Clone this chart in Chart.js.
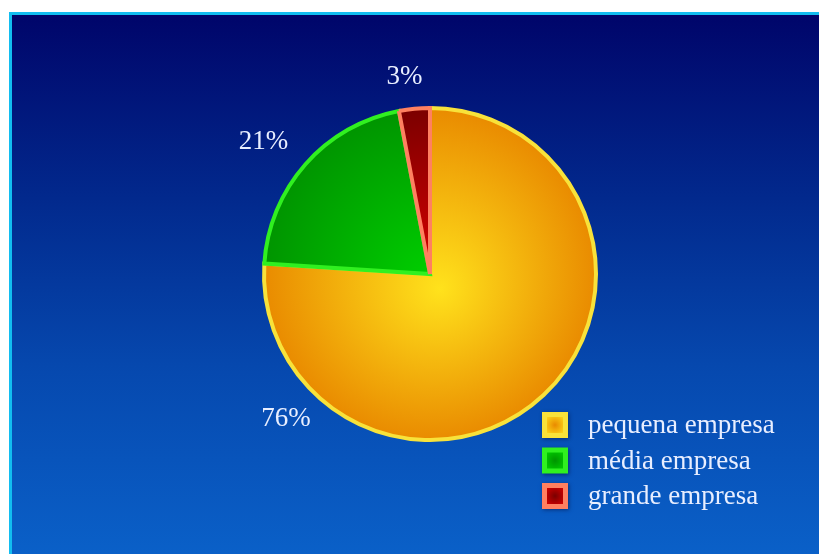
<!DOCTYPE html>
<html>
<head>
<meta charset="utf-8">
<script src="https://cdn.jsdelivr.net/npm/chart.js@4.4.1/dist/chart.umd.min.js"></script>
<style>
  html, body { margin: 0; padding: 0; background: #ffffff; }
  #wrap { position: relative; width: 819px; height: 554px; overflow: hidden; }
  #panel {
    position: absolute; left: 9px; top: 12px; right: 0; bottom: 0;
    border-top: 3px solid #12bdf0; border-left: 3px solid #12bdf0;
    background: linear-gradient(180deg, #00056a 0%, #022a8e 35%, #0648ae 65%, #0a60c8 100%);
  }
  canvas { position: absolute; left: 0; top: 0; }
</style>
</head>
<body>
<div id="wrap">
  <div id="panel"></div>
  <canvas id="c" width="819" height="554"></canvas>
</div>
<script>
// Share of companies by size
const categories = ['pequena empresa', 'média empresa', 'grande empresa'];
const shares = [76, 21, 3];
const valueLabels = ['76%', '21%', '3%'];

// Slice colours: [centre, rim] of the radial fill, plus the outline
const fillInner = ['#ffe21c', '#00d400', '#e00000'];
const fillOuter = ['#e98a00', '#009400', '#7a0000'];
const outlines = ['#f8e23a', '#30f020', '#ff8060'];

// Where each value label sits: fraction along its slice, distance as a multiple of radius
const labelAngleFrac = [0.822, 0.46, 0.32];
const labelRadiusMul = [1.23, 1.28, 1.2];

const textColor = '#e8eeff';
const serif = '"Liberation Serif", "DejaVu Serif", serif';

function sliceFill(ctx) {
  const chart = ctx.chart;
  const area = chart.chartArea;
  const i = ctx.dataIndex;
  if (!area) return fillOuter[i];
  const cx = (area.left + area.right) / 2;
  const cy = (area.top + area.bottom) / 2;
  const r = Math.min(area.width, area.height) / 2;
  const g = chart.ctx.createRadialGradient(cx + 10, cy + 15, 0, cx, cy, r);
  g.addColorStop(0, fillInner[i]);
  g.addColorStop(1, fillOuter[i]);
  return g;
}

const valueLabelPlugin = {
  id: 'valueLabels',
  afterDatasetsDraw(chart) {
    const meta = chart.getDatasetMeta(0);
    const ctx = chart.ctx;
    ctx.save();
    ctx.font = '27px ' + serif;
    ctx.fillStyle = textColor;
    ctx.textAlign = 'center';
    ctx.textBaseline = 'middle';
    meta.data.forEach((arc, i) => {
      const p = arc.getProps(['x', 'y', 'startAngle', 'endAngle', 'outerRadius'], true);
      const a = p.startAngle + (p.endAngle - p.startAngle) * labelAngleFrac[i];
      const r = p.outerRadius * labelRadiusMul[i];
      ctx.fillText(valueLabels[i], p.x + Math.cos(a) * r, p.y + Math.sin(a) * r);
    });
    ctx.restore();
  }
};

const legendPlugin = {
  id: 'boxLegend',
  afterDraw(chart) {
    const ctx = chart.ctx;
    const x0 = 542, y0 = 412, box = 26, step = 35.5;
    ctx.save();
    categories.forEach((name, i) => {
      const y = y0 + i * step;
      ctx.shadowColor = 'rgba(0,0,40,0.45)';
      ctx.shadowBlur = 4;
      ctx.shadowOffsetX = 1;
      ctx.shadowOffsetY = 1;
      ctx.fillStyle = outlines[i];
      ctx.fillRect(x0, y, box, box);
      ctx.shadowColor = 'transparent';
      const g = ctx.createRadialGradient(x0 + box / 2, y + box / 2, 0, x0 + box / 2, y + box / 2, box / 2);
      g.addColorStop(0, fillOuter[i]);
      g.addColorStop(1, fillInner[i]);
      ctx.fillStyle = g;
      ctx.fillRect(x0 + 5, y + 5, box - 10, box - 10);
      ctx.font = '27px ' + serif;
      ctx.fillStyle = textColor;
      ctx.textAlign = 'left';
      ctx.textBaseline = 'middle';
      ctx.fillText(name, 588, y + box / 2 + 1);
    });
    ctx.restore();
  }
};

new Chart(document.getElementById('c'), {
  type: 'pie',
  data: {
    labels: categories,
    datasets: [{
      data: shares,
      backgroundColor: sliceFill,
      borderColor: outlines,
      borderWidth: 4,
      borderJoinStyle: 'miter'
    }]
  },
  options: {
    responsive: false,
    animation: false,
    layout: { padding: { left: 262, right: 221, top: 106, bottom: 112 } },
    plugins: {
      legend: { display: false },
      tooltip: { enabled: false }
    }
  },
  plugins: [valueLabelPlugin, legendPlugin]
});
</script>
</body>
</html>
